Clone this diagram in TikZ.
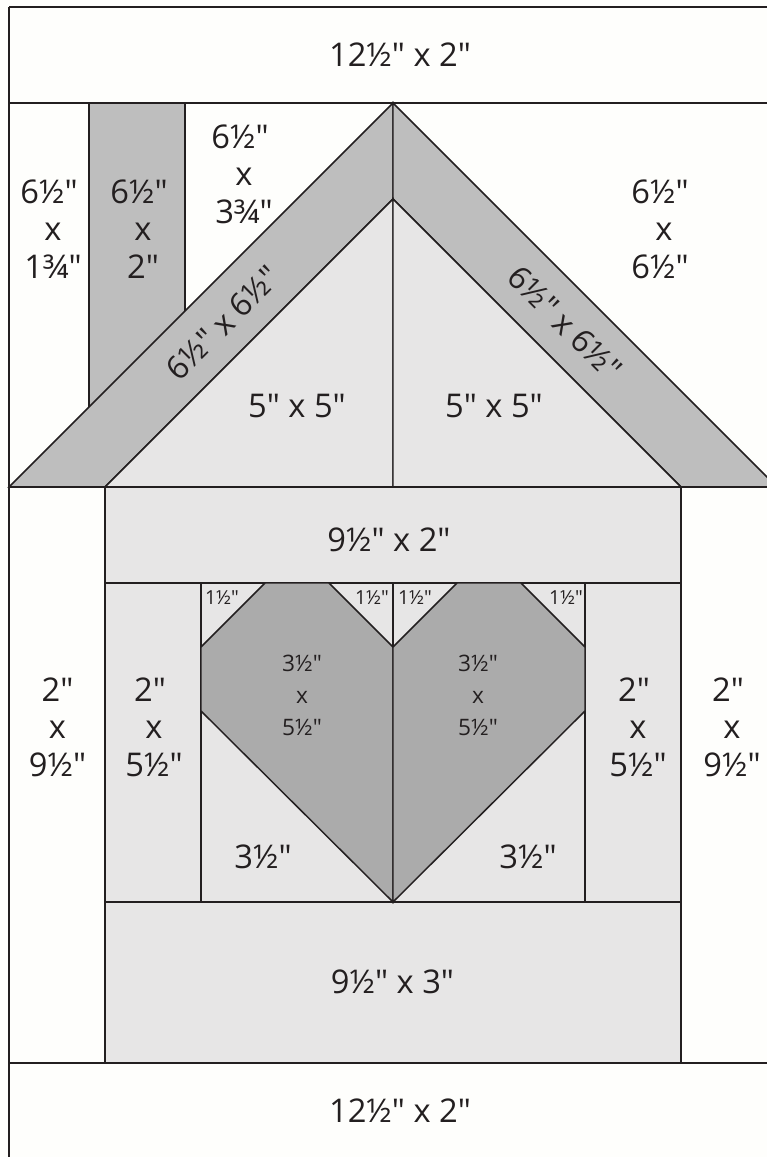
\documentclass[tikz,border=0pt]{standalone}
\usepackage{fontspec}
\newfontfamily\qf{Open Sans}
\definecolor{paper}{HTML}{FEFEFC}
\definecolor{lightp}{HTML}{E7E6E6}
\definecolor{midp}{HTML}{BEBEBE}
\definecolor{darkp}{HTML}{ABABAB}
\definecolor{ink}{HTML}{231F20}
\newcommand{\shl}{\hspace*{-6pt}}
\newcommand{\shr}{\hspace*{6pt}}
\tikzset{
  patch/.style={draw=ink,line width=1.1pt,line join=miter},
  big/.style={font=\qf\fontsize{24.5}{28}\selectfont,align=center,text=ink,inner sep=0pt},
  mid/.style={font=\qf\fontsize{24}{28}\selectfont,align=center,text=ink,inner sep=0pt},
  small/.style={font=\qf\fontsize{17}{24}\selectfont,align=center,text=ink,inner sep=0pt},
  tiny/.style={font=\qf\fontsize{14.5}{16}\selectfont,text=ink,inner sep=0pt}
}
\begin{document}
\begin{tikzpicture}[x=0.75pt,y=-0.75pt]
\useasboundingbox (0,0) rectangle (767,1157);
\begin{scope}
\clip (0,0) rectangle (767,1157);
\fill[paper] (0,0) rectangle (767,1157);
\coordinate (apex) at (393,103);
\coordinate (apexin) at (393,199);
\coordinate (rl) at (9,487);
\coordinate (ril) at (105,487);
\coordinate (rir) at (681,487);
\coordinate (rr) at (777,487);
% outer frame
\draw[patch] (9,7) -- (767,7);
\draw[patch] (9,7) -- (9,1157);
\draw[patch] (9,103) -- (767,103);
\draw[patch] (9,1063) -- (767,1063);
% chimney
\draw[patch,fill=midp] (89,103) rectangle (185,407);
% roof
\draw[patch,fill=midp] (apex) -- (rl) -- (ril) -- (apexin) -- cycle;
\draw[patch,fill=midp] (apex) -- (rr) -- (rir) -- (apexin) -- cycle;
\draw[patch,fill=lightp] (apexin) -- (ril) -- (393,487) -- cycle;
\draw[patch,fill=lightp] (apexin) -- (rir) -- (393,487) -- cycle;
\draw[patch] (rl) -- (767,487);
% house
\draw[patch,fill=lightp] (105,487) rectangle (681,583);
\draw[patch,fill=lightp] (105,583) rectangle (201,902);
\draw[patch,fill=lightp] (585,583) rectangle (681,902);
\draw[patch,fill=lightp] (201,583) rectangle (585,902);
\draw[patch,fill=lightp] (105,902) rectangle (681,1063);
% heart
\draw[patch,fill=darkp] (265,583) -- (329,583) -- (393,647) -- (393,902) -- (201,711) -- (201,647) -- cycle;
\draw[patch,fill=darkp] (521,583) -- (457,583) -- (393,647) -- (393,902) -- (585,711) -- (585,647) -- cycle;
\draw[patch] (393,583) -- (393,647);
\end{scope}
% labels
\node[big] (t1) at (400,55) {12½" x 2"};
\node[big] (t2) at (400,1111) {12½" x 2"};
\node[big] (a) at (53,229) {\shl 6½"\\x\\1¾"};
\node[big] (b) at (143,229) {\shl 6½"\\x\\2"};
\node[big] (c) at (244,174) {\shl 6½"\\x\\3¾"};
\node[big] (d) at (660,229) {6½"\\\shr x\\6½"};
\node[mid,rotate=45] (e) at (223,323) {6½" x 6½"};
\node[mid,rotate=-45] (f) at (565,323) {6½" x 6½"};
\node[big] (g) at (297,406) {5" x 5"};
\node[big] (h) at (494,406) {5" x 5"};
\node[big] (i) at (389,540) {9½" x 2"};
\node[big] (j) at (392.5,982) {9½" x 3"};
\node[big] (k) at (57.5,727) {2"\\x\\9½"};
\node[big] (l) at (154,727) {\shl 2"\\x\\5½"};
\node[big] (m) at (638,727) {\shl 2"\\x\\5½"};
\node[big] (n) at (732,727) {\shl 2"\\x\\9½"};
\node[small] (o) at (302,695) {3½"\\x\\5½"};
\node[small] (p) at (478,695) {3½"\\x\\5½"};
\node[big] (q) at (263,857) {3½"};
\node[big] (r) at (528,857) {3½"};
\node[tiny] (s1) at (222,598) {1½"};
\node[tiny] (s2) at (372,598) {1½"};
\node[tiny] (s3) at (415,598) {1½"};
\node[tiny] (s4) at (566,598) {1½"};
\end{tikzpicture}
\end{document}
